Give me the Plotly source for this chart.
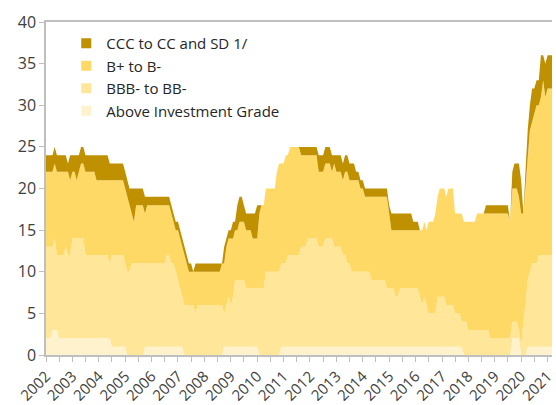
import plotly.graph_objects as go

dates = [
    "2002-01", "2002-03", "2002-04", "2002-05", "2002-06", "2002-07", "2002-09", "2002-10", "2002-11", "2002-12",
    "2003-01", "2003-02", "2003-03", "2003-04", "2003-05", "2003-06", "2003-07", "2003-11", "2003-12",
    "2004-05", "2004-06", "2004-07", "2004-12",
    "2005-01", "2005-02", "2005-03", "2005-04", "2005-05", "2005-06", "2005-09", "2005-10", "2005-11",
    "2006-07", "2006-08", "2006-09", "2006-10", "2006-11", "2006-12",
    "2007-01", "2007-02", "2007-03", "2007-04", "2007-05", "2007-06", "2007-07", "2007-08", "2007-09", "2007-10",
    "2008-08", "2008-09", "2008-10", "2008-11", "2008-12",
    "2009-01", "2009-02", "2009-03", "2009-04", "2009-05", "2009-06", "2009-07", "2009-08", "2009-10", "2009-11", "2009-12",
    "2010-01", "2010-02", "2010-03", "2010-04", "2010-05", "2010-09", "2010-10", "2010-11", "2010-12",
    "2011-01", "2011-02", "2011-03", "2011-04", "2011-08", "2011-09", "2011-11", "2011-12",
    "2012-04", "2012-05", "2012-07", "2012-08", "2012-10", "2012-11", "2012-12",
    "2013-01", "2013-03", "2013-04", "2013-05", "2013-06", "2013-07", "2013-08", "2013-09", "2013-10", "2013-11", "2013-12",
    "2014-01", "2014-02", "2014-04", "2014-05", "2014-11", "2014-12",
    "2015-01", "2015-02", "2015-03", "2015-04", "2015-05", "2015-06", "2015-11", "2015-12",
    "2016-02", "2016-03", "2016-04", "2016-05", "2016-06", "2016-07", "2016-09", "2016-10", "2016-11", "2016-12",
    "2017-02", "2017-03", "2017-04", "2017-06", "2017-07", "2017-09", "2017-10", "2017-11", "2017-12",
    "2018-01", "2018-04", "2018-05", "2018-08", "2018-09", "2018-10", "2018-11",
    "2019-07", "2019-08", "2019-09", "2019-10", "2019-11", "2019-12",
    "2020-01", "2020-02", "2020-03", "2020-04", "2020-05", "2020-06", "2020-07", "2020-08", "2020-09", "2020-10", "2020-11", "2020-12",
    "2021-01", "2021-04",
]

above_ig = [
    2, 2, 3, 3, 3, 2, 2, 2, 2, 2,
    2, 2, 2, 2, 2, 2, 2, 2, 2,
    2, 2, 1, 1,
    1, 0, 0, 0, 0, 0, 0, 1, 1,
    1, 1, 1, 1, 1, 1,
    1, 1, 1, 0, 0, 0, 0, 0, 0, 0,
    0, 0, 1, 1, 1,
    1, 1, 1, 1, 1, 1, 1, 1, 1, 1, 1,
    1, 0, 0, 0, 0, 0, 0, 0, 1,
    1, 1, 1, 1, 1, 1, 1, 1,
    1, 1, 1, 1, 1, 1, 1,
    1, 1, 1, 1, 1, 1, 1, 1, 1, 1, 1,
    1, 1, 1, 1, 1, 1,
    1, 1, 1, 1, 1, 1, 1, 1,
    1, 1, 1, 1, 1, 1, 1, 1, 1, 1,
    1, 1, 1, 1, 1, 1, 1, 0, 0,
    0, 0, 0, 0, 0, 0, 0,
    0, 0, 2, 2, 2, 2,
    0, 0, 0, 1, 1, 1, 1, 1, 1, 1, 1, 1,
    1, 1,
]

bbb_to_bb = [
    11, 11, 10, 11, 9, 10, 10, 11, 10, 10,
    12, 12, 12, 12, 12, 12, 10, 10, 10,
    10, 9, 11, 11,
    10, 10, 10, 11, 11, 11, 11, 10, 10,
    10, 11, 11, 10, 10, 9,
    8, 7, 6, 6, 6, 6, 6, 6, 5, 6,
    6, 6, 4, 5, 6,
    5, 6, 8, 8, 8, 8, 8, 7, 7, 7, 7,
    7, 8, 8, 8, 10, 10, 10, 10, 10,
    10, 10, 11, 11, 11, 12, 12, 13,
    13, 12, 12, 13, 13, 13, 12,
    12, 12, 11, 11, 10, 10, 9, 9, 9, 9, 9,
    9, 9, 9, 8, 8, 7,
    7, 7, 7, 6, 6, 7, 7, 7,
    7, 6, 5, 6, 5, 4, 4, 4, 6, 6,
    6, 5, 5, 5, 4, 4, 3, 4, 4,
    3, 3, 3, 3, 3, 3, 2,
    2, 2, 2, 2, 2, 1,
    1, 4, 6, 8, 9, 10, 10, 10, 11, 11, 11, 11,
    11, 11,
]

b_plus_to_b_minus = [
    9, 9, 9, 9, 10, 10, 10, 9, 10, 9,
    8, 8, 7, 8, 9, 9, 10, 10, 9,
    9, 10, 9, 9,
    9, 9, 8, 6, 5, 7, 7, 6, 7,
    7, 6, 6, 6, 5, 5,
    6, 6, 6, 6, 5, 4, 4, 4, 5, 4,
    4, 5, 6, 7, 7,
    8, 7, 6, 6, 7, 7, 7, 7, 7, 6, 6,
    6, 9, 10, 10, 10, 10, 12, 13, 12,
    12, 13, 12, 13, 13, 11, 11, 10,
    10, 9, 9, 9, 9, 8, 10,
    9, 9, 9, 10, 11, 10, 11, 11, 11, 11, 10,
    10, 9, 9, 10, 10, 11,
    9, 7, 7, 8, 8, 7, 7, 7,
    7, 8, 9, 9, 9, 11, 11, 12, 12, 13,
    13, 13, 14, 14, 12, 12, 13, 12, 12,
    13, 13, 14, 14, 14, 14, 15,
    15, 14, 16, 16, 16, 16,
    16, 13, 14, 15, 17, 17, 18, 19, 18, 19, 21, 19,
    20, 20,
]

ccc_to_cc_sd = [
    2, 2, 2, 2, 2, 2, 2, 2, 1, 3,
    2, 2, 3, 2, 2, 2, 2, 2, 3,
    3, 2, 2, 2,
    2, 2, 2, 3, 4, 2, 2, 2, 1,
    1, 1, 1, 1, 1, 1,
    1, 1, 1, 1, 1, 1, 1, 0, 1, 1,
    1, 0, 2, 1, 1,
    1, 2, 1, 3, 3, 3, 2, 2, 2, 3, 3,
    4, 1, 0, 0, 0, 0, 0, 0, 0,
    0, 0, 0, 0, 0, 1, 1, 1,
    1, 2, 2, 2, 2, 2, 1,
    2, 2, 2, 2, 2, 2, 2, 2, 1, 1, 1,
    1, 1, 1, 1, 1, 1,
    1, 2, 2, 2, 2, 2, 2, 1,
    1, 0, 0, 0, 0, 0, 0, 0, 0, 0,
    0, 0, 0, 0, 0, 0, 0, 0, 0,
    0, 0, 0, 0, 1, 1, 1,
    1, 0, 2, 3, 3, 4,
    4, 0, 2, 3, 3, 4, 3, 3, 3, 5, 3, 4,
    4, 4,
]

series_names = ["CCC to CC and SD 1/", "B+ to B-", "BBB- to BB-", "Above Investment Grade"]
series_colors = ["#BF9000", "#FFD966", "#FFE699", "#FFF2CC"]

stack = [
    ("Above Investment Grade", above_ig, "#FFF2CC"),
    ("BBB- to BB-", bbb_to_bb, "#FFE699"),
    ("B+ to B-", b_plus_to_b_minus, "#FFD966"),
    ("CCC to CC and SD 1/", ccc_to_cc_sd, "#BF9000"),
]

fig = go.Figure()
for name, vals, col in stack:
    fig.add_trace(go.Scatter(
        x=dates, y=vals, name=name, mode="lines", stackgroup="one",
        line=dict(width=0, color=col), fillcolor=col, showlegend=False,
        hoverinfo="skip",
    ))

# legend entries (square markers)
for name, col in zip(series_names, series_colors):
    fig.add_trace(go.Scatter(
        x=[None], y=[None], mode="markers", name=name,
        marker=dict(symbol="square", size=10, color=col), showlegend=True,
    ))

axis_col = "#BFBFBF"
font_col = "#404040"
fig.update_layout(
    width=556, height=405,
    margin=dict(l=46, r=0, t=22, b=50),
    paper_bgcolor="white", plot_bgcolor="white",
    font=dict(family="Open Sans", size=15, color=font_col),
    showlegend=True,
    legend=dict(
        x=0.04, y=0.985, xanchor="left", yanchor="top",
        bgcolor="rgba(0,0,0,0)", font=dict(size=15, color="#262626"),
        itemwidth=30, tracegroupgap=0, traceorder="normal",
    ),
    xaxis=dict(
        type="date",
        range=["2002-01-01", "2021-03-03"],
        tickformat="%Y", dtick="M12", tick0="2002-01-01",
        tickangle=-45, showgrid=False, zeroline=False,
        ticklabeloverflow="allow",
        showline=True, linecolor=axis_col, linewidth=1.5, mirror=True,
        ticks="outside", ticklen=5, tickcolor=axis_col,
        minor=dict(dtick="M6", ticks="outside", ticklen=5, tickcolor=axis_col),
        tickfont=dict(size=15, color=font_col),
    ),
    yaxis=dict(
        range=[0, 40], dtick=5, showgrid=False, zeroline=False,
        showline=True, linecolor=axis_col, linewidth=1.5,
        ticks="outside", ticklen=5, tickcolor=axis_col,
        tickfont=dict(size=16, color=font_col),
    ),
)

fig.write_html(
    "out.html",
    config={"displayModeBar": False},
    post_script="document.body.style.margin='0';document.body.style.overflow='hidden';",
)
